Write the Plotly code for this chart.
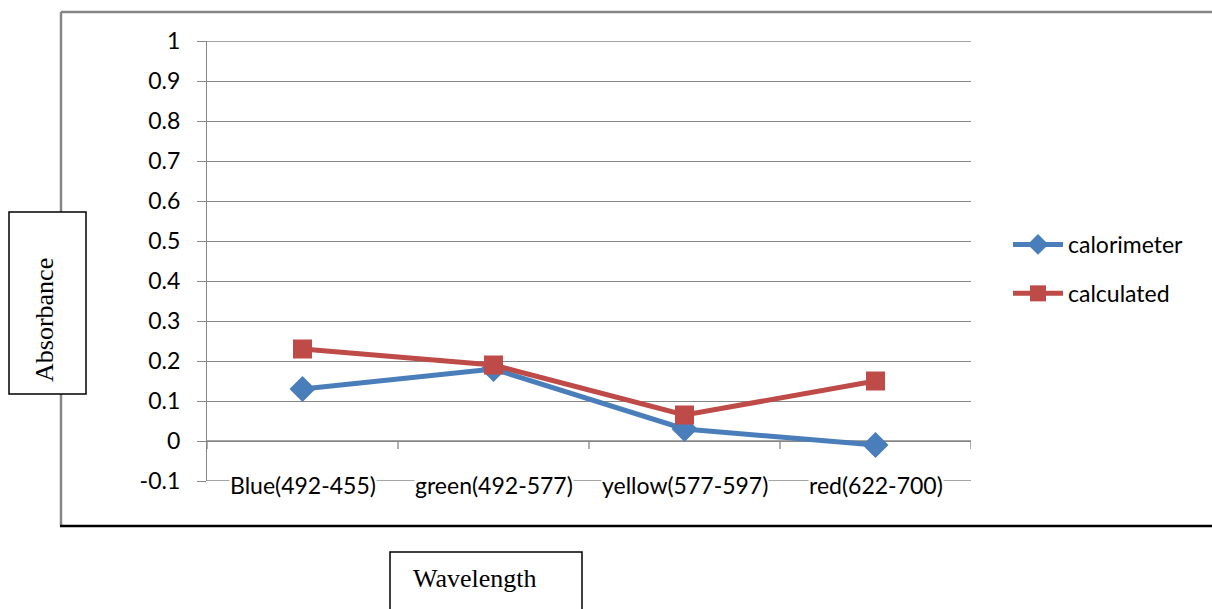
import plotly.graph_objects as go

categories = ["Blue(492-455)", "green(492-577)", "yellow(577-597)", "red(622-700)"]
calorimeter = [0.13, 0.18, 0.03, -0.01]
calculated = [0.23, 0.19, 0.065, 0.15]
y_ticks = [-0.1, 0, 0.1, 0.2, 0.3, 0.4, 0.5, 0.6, 0.7, 0.8, 0.9, 1]

W, H = 1212, 609
L, R, T, B = 207, 971, 41, 481
ymin, ymax = -0.1, 1.0
grid_col = "#868686"
blue = "#4A7EBB"
red = "#BE4B48"
tick_font = dict(family="Lato, Open Sans, sans-serif", size=23, color="#000000")
serif = dict(family="Liberation Serif, Times New Roman, serif", size=26, color="#000000")

xs = list(range(len(categories)))

fig = go.Figure()
fig.add_trace(go.Scatter(
    x=xs, y=calorimeter, name="calorimeter", mode="lines+markers", legendgroup="a",
    line=dict(color=blue, width=5),
    marker=dict(symbol="diamond", size=20, color=blue),
))
fig.add_trace(go.Scatter(
    x=xs, y=calculated, name="calculated", mode="lines+markers", legendgroup="b",
    line=dict(color=red, width=5),
    marker=dict(symbol="square", size=19, color=red),
))


def fx(xp):
    """pixel x -> paper x"""
    return (xp - L) / (R - L)


def fy(yp):
    """pixel y -> paper y"""
    return 1 - (yp - T) / (B - T)


fig.update_layout(
    width=W, height=H,
    margin=dict(l=L, r=W - R, t=T, b=H - B, pad=0),
    paper_bgcolor="white", plot_bgcolor="white",
    showlegend=True,
    legend=dict(x=fx(1008), y=fy(223), xanchor="left", yanchor="top",
                font=tick_font, bgcolor="rgba(0,0,0,0)",
                itemwidth=50, tracegroupgap=16),
    xaxis=dict(range=[-0.5, len(categories) - 0.5], showgrid=False, zeroline=False,
               showticklabels=False, showline=False, ticks=""),
    yaxis=dict(range=[ymin, ymax], tickvals=y_ticks,
               ticktext=[f"{v:g}" for v in y_ticks],
               showgrid=True, gridcolor=grid_col, gridwidth=1.3,
               zeroline=False, showline=True, linecolor=grid_col, linewidth=1.3,
               ticks="outside", ticklen=9, tickcolor=grid_col, tickwidth=1.3,
               tickfont=tick_font, ticklabelstandoff=12),
)

shapes = []
# gridlines on the range edges
for v in (ymin, ymax):
    shapes.append(dict(type="line", xref="paper", yref="y", x0=0, x1=1, y0=v, y1=v,
                       line=dict(color=grid_col, width=1.3), layer="below"))
# category axis at zero with boundary ticks
shapes.append(dict(type="line", xref="x", yref="y", x0=-0.5, x1=len(categories) - 0.5,
                   y0=0, y1=0, line=dict(color=grid_col, width=1.3), layer="below"))
for i in range(len(categories) + 1):
    shapes.append(dict(type="line", xref="x", yref="y", x0=i - 0.5, x1=i - 0.5,
                       y0=0, y1=-0.02, line=dict(color=grid_col, width=1.3), layer="below"))

# outer chart frame
shapes.append(dict(type="line", xref="paper", yref="paper", x0=fx(61), x1=fx(W),
                   y0=fy(12), y1=fy(12), line=dict(color=grid_col, width=2.5)))
shapes.append(dict(type="line", xref="paper", yref="paper", x0=fx(61), x1=fx(61),
                   y0=fy(12), y1=fy(526), line=dict(color=grid_col, width=2.5)))
shapes.append(dict(type="line", xref="paper", yref="paper", x0=fx(60), x1=fx(W),
                   y0=fy(526), y1=fy(526), line=dict(color="#000000", width=2.5)))


# axis title boxes
def box(x0, y0, x1, y1):
    return dict(type="rect", xref="paper", yref="paper",
                x0=fx(x0), x1=fx(x1), y0=fy(y0), y1=fy(y1),
                line=dict(color="#000000", width=1.5), fillcolor="white")


shapes.append(box(9, 212, 86, 394))
shapes.append(box(390, 552, 582, 620))
fig.update_layout(shapes=shapes)

annotations = []
for i, c in enumerate(categories):
    annotations.append(dict(x=i, y=ymin, xref="x", yref="y", text=c, showarrow=False,
                            xanchor="center", yanchor="middle",
                            font=tick_font, bgcolor="white", yshift=-4, borderpad=0))

annotations.append(dict(x=fx(44), y=fy(320), xref="paper", yref="paper",
                        xanchor="center", yanchor="middle",
                        text="Absorbance", textangle=-90, showarrow=False, font=serif))
annotations.append(dict(x=fx(475), y=fy(578), xref="paper", yref="paper",
                        xanchor="center", yanchor="middle",
                        text="Wavelength", showarrow=False, font=serif))
fig.update_layout(annotations=annotations)

fig.write_html("out.html")
